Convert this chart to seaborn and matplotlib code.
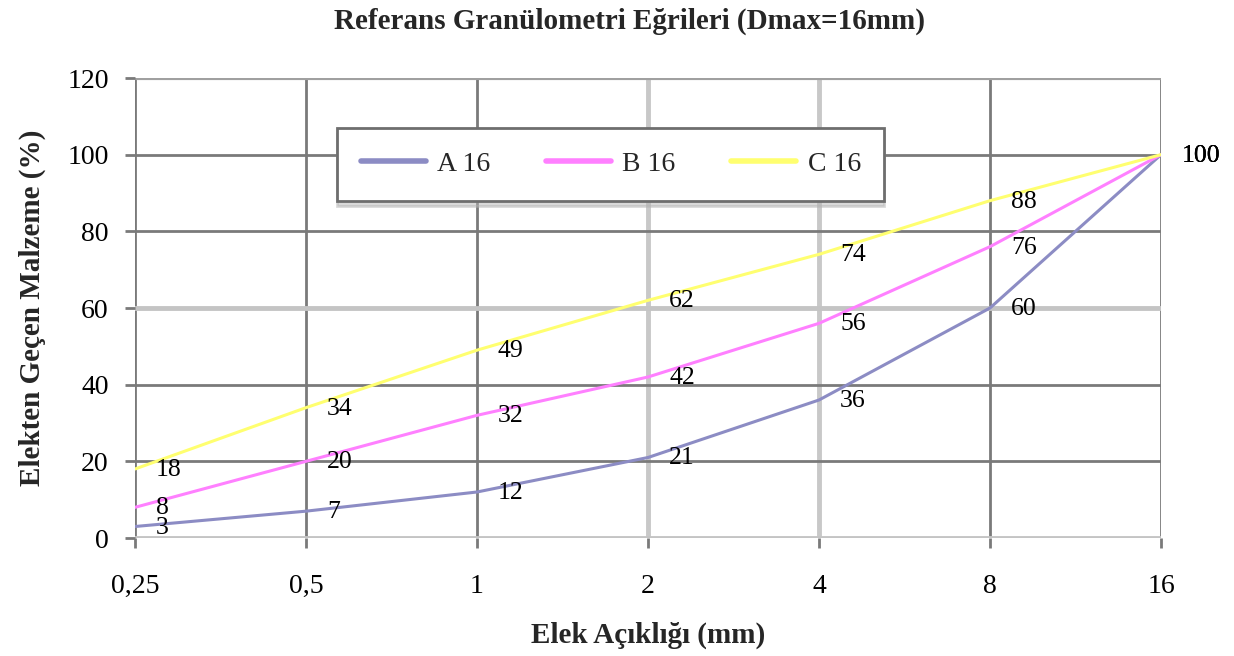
import matplotlib
matplotlib.use("Agg")
import matplotlib.pyplot as plt
import pandas as pd
import seaborn as sns

sieves = ['0,25', '0,5', '1', '2', '4', '8', '16']
a16 = [3, 7, 12, 21, 36, 60, 100]
b16 = [8, 20, 32, 42, 56, 76, 100]
c16 = [18, 34, 49, 62, 74, 88, 100]
series_names = ['A 16', 'B 16', 'C 16']
y_ticks = [0, 20, 40, 60, 80, 100, 120]

df = pd.DataFrame({'elek': sieves * 3,
                   'gecen': a16 + b16 + c16,
                   'seri': [n for n in series_names for _ in sieves]})

sns.set_theme(style="white")
plt.rcParams['font.family'] = ['Liberation Serif', 'DejaVu Serif']

colors = {'A 16': '#8c8cc4', 'B 16': '#ff80ff', 'C 16': '#ffff70'}

fig = plt.figure(figsize=(12.34, 6.56), dpi=100)
ax = fig.add_axes([135 / 1234, 1 - 538 / 656, 1026 / 1234, 460 / 656])

# grid lines (dark / light like the original)
light_x = {'2', '4'}
for i, s in enumerate(sieves):
    if s in light_x:
        ax.axvline(i, color='#c8c8c8', lw=3.5, zorder=0)
    else:
        ax.axvline(i, color='#7a7a7a', lw=2, zorder=0)
for t in y_ticks:
    if t in (0, 60):
        ax.axhline(t, color='#c4c4c4', lw=3.5, zorder=0)
    elif t == 120:
        ax.axhline(t, color='#a0a0a0', lw=3, zorder=0)
    else:
        ax.axhline(t, color='#7a7a7a', lw=2, zorder=0)

sns.lineplot(data=df, x='elek', y='gecen', hue='seri', palette=colors,
             lw=2.2, ax=ax, sort=False, legend=True)

# data labels
for name, vals in zip(series_names, [a16, b16, c16]):
    for i, v in enumerate(vals):
        ax.annotate(str(v), (i, v), xytext=(21, -1), textcoords='offset pixels',
                    ha='left', va='center', fontsize=18.5, color='black',
                    annotation_clip=False)

ax.set_xlim(0, len(sieves) - 1)
ax.set_ylim(0, 120)
ax.set_yticks(y_ticks)
ax.set_xticks(range(len(sieves)))
ax.set_xticklabels(sieves)
for sp in ax.spines.values():
    sp.set_visible(False)
ax.tick_params(axis='both', labelsize=20, colors='#7a7a7a', labelcolor='black',
               length=7, width=2, direction='out', left=True, bottom=True)
ax.tick_params(axis='x', pad=19)
ax.tick_params(axis='y', pad=12)

ax.set_xlabel('Elek Açıklığı (mm)', fontsize=21, fontweight='bold', labelpad=16)
ax.set_ylabel('Elekten Geçen Malzeme (%)', fontsize=21, fontweight='bold', labelpad=15)
fig.text(0.5105, 0.968, 'Referans Granülometri Eğrileri (Dmax=16mm)', ha='center',
         va='center', fontsize=21, fontweight='bold')

leg = ax.legend(loc='upper left', bbox_to_anchor=(0.197, 0.891), ncol=3,
                fontsize=20, frameon=True, fancybox=False, borderpad=0.85,
                borderaxespad=0, handlelength=2.35, handletextpad=0.4,
                columnspacing=2.0,
                shadow={'ox': 0, 'oy': -4, 'color': '#b4b4b4'})
leg.get_frame().set_edgecolor('#6e6e6e')
leg.get_frame().set_linewidth(2)
leg.get_frame().set_alpha(1)
for line in leg.get_lines():
    line.set_linewidth(4)

fig.savefig('out.png', dpi=100)
